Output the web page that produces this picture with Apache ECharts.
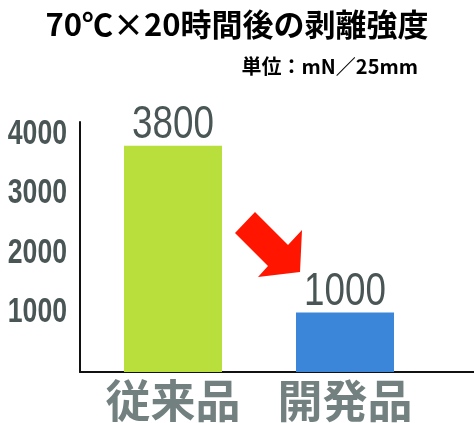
<!DOCTYPE html>
<html>
<head>
<meta charset="utf-8">
<script src="https://cdn.jsdelivr.net/npm/echarts@6/dist/echarts.min.js"></script>
<style>html,body{margin:0;padding:0;background:#fff}#c{width:474px;height:423px}</style>
</head>
<body>
<div id="c"></div>
<script>
const titleText = '70℃×20時間後の剥離強度';
const unitText = '単位：mN／25mm';
const categories = ['従来品', '開発品'];
const values = [3800, 1000];
const barColors = ['#b9df3d', '#3b86d9'];
const yTicks = [1000, 2000, 3000, 4000];
const yMax = 4200;

const numFont = "'Liberation Sans', Arial, sans-serif";
const cjkFont = "'Noto Sans CJK JP', sans-serif";

const chart = echarts.init(document.getElementById('c'), null, {renderer: 'canvas'});
chart.setOption({
  animation: false,
  backgroundColor: '#ffffff',
  title: [
    {text: titleText, left: 'center', top: 4,
     textStyle: {fontFamily: cjkFont, fontWeight: 'bold', fontSize: 31, color: '#000'}},
    {text: unitText, right: 51, top: 51,
     textStyle: {fontFamily: cjkFont, fontWeight: 'bold', fontSize: 20, color: '#000'}}
  ],
  grid: [
    {left: 80, right: 0, top: 122, bottom: 51, containLabel: false, outerBoundsMode: 'none'},
    {left: 87, width: 344, top: 122, bottom: 51, containLabel: false, outerBoundsMode: 'none'}
  ],
  xAxis: [
    {gridIndex: 0, type: 'value', min: 0, max: 1,
     axisLine: {show: true, lineStyle: {color: '#111', width: 2}},
     axisTick: {show: false}, axisLabel: {show: false}, splitLine: {show: false}},
    {gridIndex: 1, type: 'category', data: categories,
     axisLine: {show: false}, axisTick: {show: false}, splitLine: {show: false},
     axisLabel: {interval: 0, margin: 6, fontFamily: cjkFont, fontWeight: 'bold', fontSize: 45, color: '#738080'}}
  ],
  yAxis: [
    {gridIndex: 0, type: 'value', min: 0, max: yMax, interval: 1000,
     axisLine: {show: true, lineStyle: {color: '#111', width: 2}},
     axisTick: {show: false}, splitLine: {show: false},
     axisLabel: {margin: 13, fontFamily: numFont, fontWeight: 'bold', fontSize: 35, color: '#4a5555',
       formatter: v => (yTicks.indexOf(v) >= 0 ? String(v) : '')}},
    {gridIndex: 1, type: 'value', min: 0, max: yMax, show: false}
  ],
  series: [{
    type: 'bar', xAxisIndex: 1, yAxisIndex: 1,
    barWidth: 98,
    data: values.map((v, i) => ({value: v, itemStyle: {color: barColors[i]}})),
    label: {show: true, position: 'top', distance: -3,
      fontFamily: numFont, fontSize: 46, color: '#4a5555'}
  }],
  graphic: [{
    type: 'polygon',
    shape: {points: [[255,212],[288,245],[302,230],[300,272],[258,277],[268,266],[235,233]]},
    style: {fill: '#ff1500'}
  }]
});

// Condense the numeric labels horizontally (the reference uses a narrow typeface).
try {
  const zr = chart.getZr();
  const list = zr.storage.getDisplayList(true);
  list.forEach(el => {
    const s = el.style;
    if (!s || typeof s.text !== 'string') return;
    if (!/^\d+$/.test(s.text)) return;
    const isTick = !!(s.font && s.font.indexOf('35px') >= 0);
    el.originX = s.x || 0;
    el.originY = s.y || 0;
    el.scaleX = isTick ? 0.76 : 0.80;
    el.markRedraw();
  });
  zr.refreshImmediately();
} catch (e) {}
</script>
</body>
</html>
